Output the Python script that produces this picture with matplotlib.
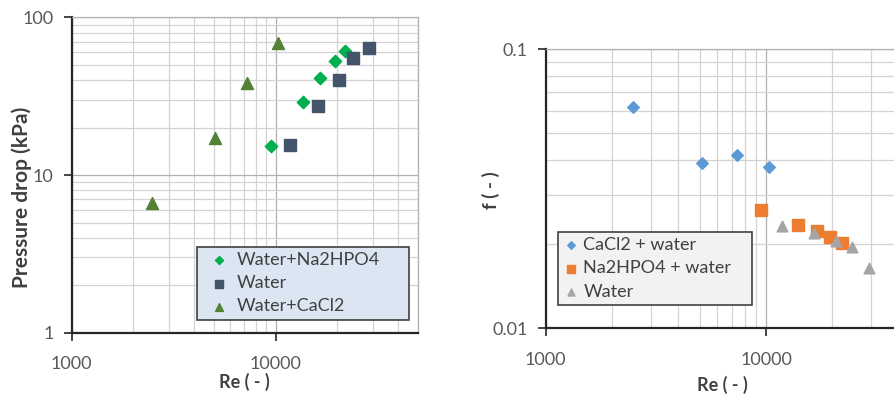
import matplotlib
matplotlib.use("Agg")
import matplotlib.pyplot as plt
from matplotlib.ticker import LogLocator, FixedLocator, FixedFormatter, NullFormatter

plt.rcParams["font.family"] = ["Lato", "DejaVu Sans"]

# left panel: pressure drop vs Re
re_na2hpo4 = [9530, 13600, 16600, 19600, 21800]
dp_na2hpo4 = [15.4, 29.0, 41.0, 52.6, 61.1]
re_water = [11800, 16100, 20400, 24100, 28600]
dp_water = [15.5, 27.4, 40.3, 55.0, 63.6]
re_cacl2 = [2490, 5040, 7270, 10260]
dp_cacl2 = [6.62, 17.3, 38.5, 68.4]

# right panel: friction factor vs Re
fre_cacl2 = [2500, 5140, 7360, 10350]
f_cacl2 = [0.0622, 0.0391, 0.0418, 0.0380]
fre_na2hpo4 = [9490, 13970, 17000, 19600, 22130]
f_na2hpo4 = [0.0265, 0.02346, 0.02233, 0.0212, 0.0202]
fre_water = [11860, 16570, 20700, 24650, 29440]
f_water = [0.02333, 0.0220, 0.0206, 0.0196, 0.0164]

x_ticks = [1000, 10000]
x_ticklabels = ["1000", "10000"]
y_ticks_left = [1, 10, 100]
y_ticklabels_left = ["1", "10", "100"]
y_ticks_right = [0.01, 0.1]
y_ticklabels_right = ["0.01", "0.1"]

TICK_C = "#595959"
LABEL_C = "#404040"
MAJ_GRID = "#b0b0b0"
MIN_GRID = "#d4d4d4"


def style_axes(ax, xlim, ylim, yticks, ylabels):
    ax.set_xscale("log")
    ax.set_yscale("log")
    ax.set_xlim(*xlim)
    ax.set_ylim(*ylim)
    ax.xaxis.set_major_locator(FixedLocator(x_ticks))
    ax.xaxis.set_major_formatter(FixedFormatter(x_ticklabels))
    ax.yaxis.set_major_locator(FixedLocator(yticks))
    ax.yaxis.set_major_formatter(FixedFormatter(ylabels))
    for axis in (ax.xaxis, ax.yaxis):
        axis.set_minor_locator(LogLocator(base=10, subs=range(2, 10), numticks=20))
        axis.set_minor_formatter(NullFormatter())
    ax.grid(True, which="major", color=MAJ_GRID, linewidth=0.9)
    ax.grid(True, which="minor", color=MIN_GRID, linewidth=0.9)
    ax.set_axisbelow(True)
    ax.tick_params(which="major", length=6, width=1.2, color="#262626",
                   labelsize=13, labelcolor=TICK_C)
    ax.tick_params(axis="x", which="major", pad=11)
    ax.tick_params(axis="y", which="major", pad=7)
    ax.tick_params(which="minor", length=0)
    for side in ("left", "bottom"):
        ax.spines[side].set_color("#262626")
        ax.spines[side].set_linewidth(1.6)
    for side in ("top", "right"):
        ax.spines[side].set_color(MAJ_GRID)
        ax.spines[side].set_linewidth(0.9)


def style_legend(leg, face):
    frame = leg.get_frame()
    frame.set_facecolor(face)
    frame.set_edgecolor("#404040")
    frame.set_linewidth(1.2)
    frame.set_alpha(1)
    for t in leg.get_texts():
        t.set_color(LABEL_C)


fig = plt.figure(figsize=(8.95, 3.97), dpi=100)

# ---- left panel
ax1 = fig.add_axes([0.0801, 0.162, 0.387, 0.794])
ax1.scatter(re_na2hpo4, dp_na2hpo4, marker="D", s=40, color="#00b050", label="Water+Na2HPO4", zorder=3)
ax1.scatter(re_water, dp_water, marker="s", s=75, color="#44546a", label="Water", zorder=3)
ax1.scatter(re_cacl2, dp_cacl2, marker="^", s=75, color="#548235", label="Water+CaCl2", zorder=3)
style_axes(ax1, (1000, 50000), (1, 100), y_ticks_left, y_ticklabels_left)
ax1.set_xlabel("Re ( - )", fontsize=13, fontweight="bold", color=LABEL_C)
ax1.set_ylabel("Pressure drop (kPa)", fontsize=15, fontweight="bold", color=LABEL_C)
ax1.xaxis.set_label_coords(0.5, -0.127)
ax1.yaxis.set_label_coords(-0.115, 0.43)
leg1 = ax1.legend(loc="upper left", bbox_to_anchor=(0.363, 0.273, 0.611, 0.0), mode="expand",
                  fontsize=13, frameon=True, fancybox=False, markerscale=0.65,
                  handlelength=1.8, handletextpad=0.1, labelspacing=0.4, borderpad=0.3,
                  borderaxespad=0)
style_legend(leg1, "#dce6f2")

# ---- right panel
ax2 = fig.add_axes([0.6097, 0.173, 0.3943, 0.703])
ax2.scatter(fre_cacl2, f_cacl2, marker="D", s=35, color="#5b9bd5", label="CaCl2 + water", zorder=3)
ax2.scatter(fre_na2hpo4, f_na2hpo4, marker="s", s=65, color="#ed7d31", label="Na2HPO4 + water", zorder=3)
ax2.scatter(fre_water, f_water, marker="^", s=60, color="#a5a5a5", label="Water", zorder=4)
style_axes(ax2, (1000, 40000), (0.01, 0.1), y_ticks_right, y_ticklabels_right)
ax2.set_xlabel("Re ( - )", fontsize=13, fontweight="bold", color=LABEL_C)
ax2.set_ylabel("f ( - )", fontsize=13.5, fontweight="bold", color=LABEL_C)
ax2.xaxis.set_label_coords(0.5, -0.172)
ax2.yaxis.set_label_coords(-0.13, 0.496)
leg2 = ax2.legend(loc="upper left", bbox_to_anchor=(0.035, 0.346, 0.549, 0.0), mode="expand",
                  fontsize=13, frameon=True, fancybox=False, markerscale=0.65,
                  handlelength=0.8, handletextpad=0.3, labelspacing=0.4, borderpad=0.3,
                  borderaxespad=0)
style_legend(leg2, "#f2f2f2")

fig.savefig("out.png", dpi=100)
